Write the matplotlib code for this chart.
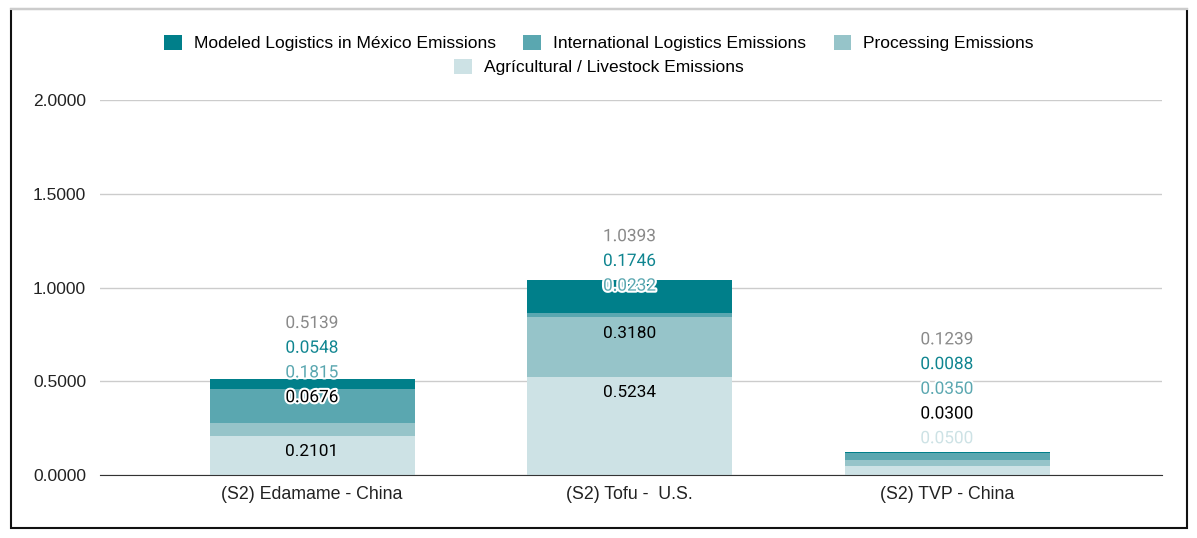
import matplotlib.pyplot as plt
import matplotlib.patheffects as pe
from matplotlib.patches import Rectangle
import numpy as np

# data
categories = ["(S2) Edamame - China", "(S2) Tofu -  U.S.", "(S2) TVP - China"]
series_names = ["Agrícultural / Livestock Emissions", "Processing Emissions",
                "International Logistics Emissions", "Modeled Logistics in México Emissions"]
agri = [0.2101, 0.5234, 0.0500]
processing = [0.0676, 0.3180, 0.0300]
international = [0.1815, 0.0232, 0.0350]
modeled = [0.0548, 0.1746, 0.0088]
totals = [0.5139, 1.0393, 0.1239]

colors = ["#cde2e5", "#96c4c9", "#5aa7b0", "#007f8a"]
label_colors = ["#cde2e5", "#000000", "#5aa7b0", "#0f8590"]
total_color = "#8a8a8a"

# which segment labels sit inside their segment (per bar)
inside = [[True, False, False, False],
          [True, True, False, False],
          [False, False, False, False]]
# where the stack of outside labels starts, in points above the bar top
outside_start = [-13.7, -4.3, 9.4]
step = 17.8

fig = plt.figure(figsize=(11.97, 5.38), dpi=100)
ax = fig.add_axes([100 / 1197, 1 - 475 / 538, 1062 / 1197, 375 / 538])

x = np.arange(len(categories))
width = 0.646
stack = [agri, processing, international, modeled]
bottom = np.zeros(len(categories))
bars = []
handles = []
for vals, c, name in zip(stack, colors, series_names):
    b = ax.bar(x, vals, width, bottom=bottom, color=c, label=name, zorder=2)
    handles.append(b)
    bars.append((np.array(bottom), np.array(vals)))
    bottom = bottom + np.array(vals)

lab_size = 12.4
halo = [pe.withStroke(linewidth=3, foreground="white")]
for i in range(len(categories)):
    top = bottom[i]
    k = 0
    for s in range(4):
        b0, v = bars[s]
        txt = f"{v[i]:.4f}"
        if inside[i][s]:
            ax.annotate(txt, (x[i], b0[i] + v[i]), xytext=(0, -11.5),
                        textcoords="offset points", ha="center", va="center",
                        fontsize=lab_size, family="Roboto", color="black", zorder=4)
        else:
            ax.annotate(txt, (x[i], top), xytext=(0, outside_start[i] + step * k),
                        textcoords="offset points", ha="center", va="center",
                        fontsize=lab_size, family="Roboto", color=label_colors[s],
                        path_effects=halo, zorder=4)
            k += 1
    ax.annotate(f"{totals[i]:.4f}", (x[i], top), xytext=(0, outside_start[i] + step * k),
                textcoords="offset points", ha="center", va="center",
                fontsize=lab_size, family="Roboto", color=total_color,
                path_effects=halo, zorder=4)

ax.set_xlim(-0.668, 2.677)
ax.set_ylim(0, 2.0)
ax.set_yticks([0, 0.5, 1.0, 1.5, 2.0])
ax.set_yticklabels([f"{t:.4f}" for t in [0, 0.5, 1.0, 1.5, 2.0]])
ax.set_xticks(x)
ax.set_xticklabels(categories)
ax.grid(axis="y", color="#cccccc", linewidth=1, zorder=0)
for sp in ["top", "right", "left"]:
    ax.spines[sp].set_visible(False)
ax.spines["bottom"].set_color("#333333")
ax.spines["bottom"].set_zorder(3)
ax.tick_params(axis="y", length=0, labelsize=12.5, pad=10)
ax.tick_params(axis="x", length=0, labelsize=12.8, pad=8)
for lab in ax.get_xticklabels() + ax.get_yticklabels():
    lab.set_family("Liberation Sans")
    lab.set_color("#222222")

# legend: three entries on the first row, the last one centred below
leg_prop = {"family": "Liberation Sans", "size": 12.5}
leg_kw = dict(frameon=False, prop=leg_prop, handlelength=1.0, handleheight=1.0,
              handletextpad=0.7, columnspacing=1.6, borderpad=0, borderaxespad=0)
row1 = [3, 2, 1]
leg1 = fig.legend([handles[j] for j in row1], [series_names[j] for j in row1],
                  loc="center", bbox_to_anchor=(599 / 1197, 1 - 43 / 538), ncol=3, **leg_kw)
leg2 = fig.legend([handles[0]], [series_names[0]],
                  loc="center", bbox_to_anchor=(599 / 1197, 1 - 67 / 538), ncol=1, **leg_kw)

# outer frame
fig.add_artist(Rectangle((11 / 1197, 1 - 528 / 538), 1176 / 1197, 519 / 538,
                         transform=fig.transFigure, fill=False,
                         edgecolor="#111111", linewidth=1.5))
fig.add_artist(plt.Line2D([11 / 1197, 1187 / 1197], [1 - 9 / 538, 1 - 9 / 538],
                          transform=fig.transFigure, color="#cccccc", linewidth=1.5))

fig.savefig("out.png", dpi=100)
